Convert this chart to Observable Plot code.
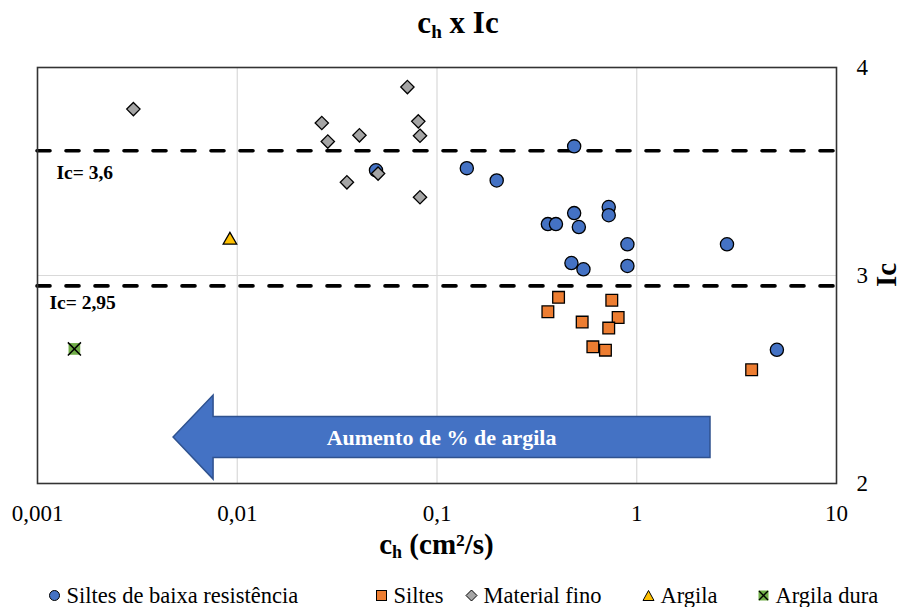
<!DOCTYPE html>
<html>
<head>
<meta charset="utf-8">
<script src="https://cdn.jsdelivr.net/npm/d3@7"></script>
<script src="https://cdn.jsdelivr.net/npm/@observablehq/plot@0.6"></script>
<style>
  html, body { margin: 0; padding: 0; background: #fff; }
  #wrap { position: relative; width: 903px; height: 607px; overflow: hidden; font-family: "Liberation Serif", "Times New Roman", "DejaVu Serif", serif; color: #000; }
  #chart { position: absolute; left: 0; top: 0; }
  .title { position: absolute; left: 0; width: 916px; top: 7px; line-height: 31px; text-align: center; font-weight: bold; font-size: 31px; }
  .xlabel { position: absolute; left: 0; width: 873px; top: 530px; line-height: 29px; text-align: center; font-weight: bold; font-size: 29px; }
  .ylabel { position: absolute; left: 886px; top: 275px; line-height: 28px; transform: translate(-50%, -50%) rotate(-90deg); font-weight: bold; font-size: 29px; white-space: nowrap; }
  sub { font-size: 0.62em; vertical-align: -0.25em; line-height: 0; }
  .leg { position: absolute; top: 582px; height: 27px; line-height: 27px; font-size: 22.5px; white-space: nowrap; display: flex; align-items: center; }
  .leg svg { margin-right: 6px; flex: none; }
</style>
</head>
<body>
<div id="wrap">
  <div id="chart"></div>
  <div class="title">c<sub>h</sub> x Ic</div>
  <div class="xlabel">c<sub>h</sub> (cm²/s)</div>
  <div class="ylabel">Ic</div>
  <div id="legend"></div>
</div>
<script>
// ---- Data ----
const siltesBaixaX = [0.0495, 0.141, 0.486, 0.199, 0.486, 0.724, 0.724, 0.359, 0.394, 0.513, 0.898, 2.83, 0.471, 0.541, 0.898, 5.03];
const siltesBaixaY = [3.506, 3.516, 3.621, 3.457, 3.30, 3.329, 3.29, 3.247, 3.247, 3.233, 3.15, 3.15, 3.06, 3.03, 3.046, 2.643];

const siltesX = [0.406, 0.359, 0.75, 0.807, 0.533, 0.724, 0.603, 0.697, 3.76];
const siltesY = [2.895, 2.826, 2.881, 2.798, 2.776, 2.747, 2.657, 2.641, 2.547];

const finoX = [0.00302, 0.0265, 0.0284, 0.0409, 0.0711, 0.0806, 0.0822, 0.0354, 0.0507, 0.0822];
const finoY = [3.80, 3.733, 3.644, 3.674, 3.906, 3.741, 3.672, 3.448, 3.49, 3.376];

const argilaX = [0.00919];
const argilaY = [3.17];

const argilaDuraX = [0.00153];
const argilaDuraY = [2.647];

const xTicks = [0.001, 0.01, 0.1, 1, 10];
const xTickLabels = ["0,001", "0,01", "0,1", "1", "10"];
const yTicks = [2, 3, 4];
const yTickLabels = ["2", "3", "4"];

const thresholds = [3.6, 2.95];
const thresholdLabels = ["Ic= 3,6", "Ic= 2,95"];

const seriesNames = ["Siltes de baixa resistência", "Siltes", "Material fino", "Argila", "Argila dura"];

const arrowFromX = 2.34;   // right end of the arrow (cm²/s)
const arrowToX = 0.0048;   // tip of the arrow (cm²/s)
const arrowIc = 2.221;     // vertical centre (Ic)
const arrowText = "Aumento de % de argila";

// ---- helpers ----
const toRows = (xs, ys) => xs.map((x, i) => ({x, y: ys[i]}));
const siltesBaixa = toRows(siltesBaixaX, siltesBaixaY);
const siltes = toRows(siltesX, siltesY);
const fino = toRows(finoX, finoY);
const argila = toRows(argilaX, argilaY);
const argilaDura = toRows(argilaDuraX, argilaDuraY);

const BLUE = "#4472C4", ORANGE = "#ED7D31", GRAY = "#A5A5A5", GOLD = "#FFC000", GREEN = "#70AD47";
const FONT = "'Liberation Serif', 'Times New Roman', 'DejaVu Serif', serif";

function arrowMark(index, scales, values, dimensions, context) {
  const x0 = scales.x(arrowFromX), x1 = scales.x(arrowToX), yc = scales.y(arrowIc);
  const headLen = 40, headHalf = 42, bodyHalf = 20.5;
  const g = d3.create("svg:g");
  const p = [
    [x1, yc], [x1 + headLen, yc - headHalf], [x1 + headLen, yc - bodyHalf],
    [x0, yc - bodyHalf], [x0, yc + bodyHalf], [x1 + headLen, yc + bodyHalf],
    [x1 + headLen, yc + headHalf]
  ];
  g.append("path")
    .attr("d", "M" + p.map(d => d.join(",")).join("L") + "Z")
    .attr("fill", BLUE).attr("stroke", "#2F528F").attr("stroke-width", 1.5);
  g.append("text")
    .attr("x", (x0 + x1) / 2).attr("y", yc).attr("dy", "0.35em")
    .attr("text-anchor", "middle").attr("fill", "white")
    .attr("font-weight", "bold").attr("font-size", 22)
    .attr("font-family", FONT)
    .text(arrowText);
  return g.node();
}

const chart = Plot.plot({
  width: 903,
  height: 570,
  marginTop: 67,
  marginBottom: 87,
  marginLeft: 37,
  marginRight: 67,
  x: {type: "log", domain: [0.001, 10]},
  y: {domain: [2, 4]},
  style: {fontFamily: FONT, fontSize: "18px", background: "white", color: "#000", overflow: "visible"},
  marks: [
    Plot.gridX(xTicks.slice(1, -1), {stroke: "#d9d9d9", strokeOpacity: 1, strokeWidth: 1.2}),
    Plot.gridY([3], {stroke: "#d9d9d9", strokeOpacity: 1, strokeWidth: 1.2}),
    Plot.ruleY(thresholds, {stroke: "black", strokeWidth: 3.6, strokeDasharray: "13,16", strokeLinecap: "round"}),
    Plot.text([thresholds[0]], {y: d => d, frameAnchor: "left", dx: 19, dy: 22, text: () => thresholdLabels[0], textAnchor: "start", fontWeight: "bold", fontSize: 19.5}),
    Plot.text([thresholds[1]], {y: d => d, frameAnchor: "left", dx: 12, dy: 17, text: () => thresholdLabels[1], textAnchor: "start", fontWeight: "bold", fontSize: 19.5}),
    arrowMark,
    Plot.dot(siltesBaixa, {x: "x", y: "y", r: 6.6, fill: BLUE, stroke: "black", strokeWidth: 1.3, symbol: "circle"}),
    Plot.dot(siltes, {x: "x", y: "y", r: 6.6, fill: ORANGE, stroke: "black", strokeWidth: 1.3, symbol: "square"}),
    Plot.dot(fino, {x: "x", y: "y", r: 6.0, fill: GRAY, stroke: "black", strokeWidth: 1.3, symbol: "diamond2"}),
    Plot.dot(argila, {x: "x", y: "y", r: 5.0, fill: GOLD, stroke: "black", strokeWidth: 1.3, symbol: "triangle"}),
    Plot.dot(argilaDura, {x: "x", y: "y", r: 6.6, fill: GREEN, stroke: "none", symbol: "square"}),
    Plot.dot(argilaDura, {x: "x", y: "y", r: 6.0, fill: "none", stroke: "black", strokeWidth: 1.5, symbol: "times"}),
    Plot.frame({stroke: "#333", strokeWidth: 1.6}),
    Plot.axisX(xTicks, {tickSize: 0, tickPadding: 21, tickFormat: d => xTickLabels[xTicks.indexOf(d)], label: null, fontSize: 23, fontFamily: FONT}),
    Plot.axisY(yTicks, {anchor: "right", tickSize: 0, tickPadding: 20, tickFormat: d => yTickLabels[yTicks.indexOf(d)], label: null, fontSize: 23, fontFamily: FONT})
  ]
});
document.getElementById("chart").appendChild(chart);

// ---- Legend (HTML below the SVG) ----
const legendCenters = [54, 381, 471, 648, 763];
const legendSym = [
  '<circle cx="6.5" cy="6.5" r="5" fill="' + BLUE + '" stroke="black" stroke-width="1"/>',
  '<rect x="1.5" y="1.5" width="10" height="10" fill="' + ORANGE + '" stroke="black" stroke-width="1"/>',
  '<path d="M6.5,1 L12,6.5 L6.5,12 L1,6.5 Z" fill="' + GRAY + '" stroke="black" stroke-width="1"/>',
  '<path d="M6.5,1.5 L12,11.5 L1,11.5 Z" fill="' + GOLD + '" stroke="black" stroke-width="1"/>',
  '<rect x="1.5" y="1.5" width="10" height="10" fill="' + GREEN + '"/><path d="M2,2 L11,11 M11,2 L2,11" stroke="black" stroke-width="1.4"/>'
];
const legend = document.getElementById("legend");
seriesNames.forEach((name, i) => {
  const d = document.createElement("div");
  d.className = "leg";
  d.style.left = (legendCenters[i] - 6.5) + "px";
  d.innerHTML = '<svg width="13" height="13" viewBox="0 0 13 13">' + legendSym[i] + '</svg><span>' + name + '</span>';
  legend.appendChild(d);
});
</script>
</body>
</html>
